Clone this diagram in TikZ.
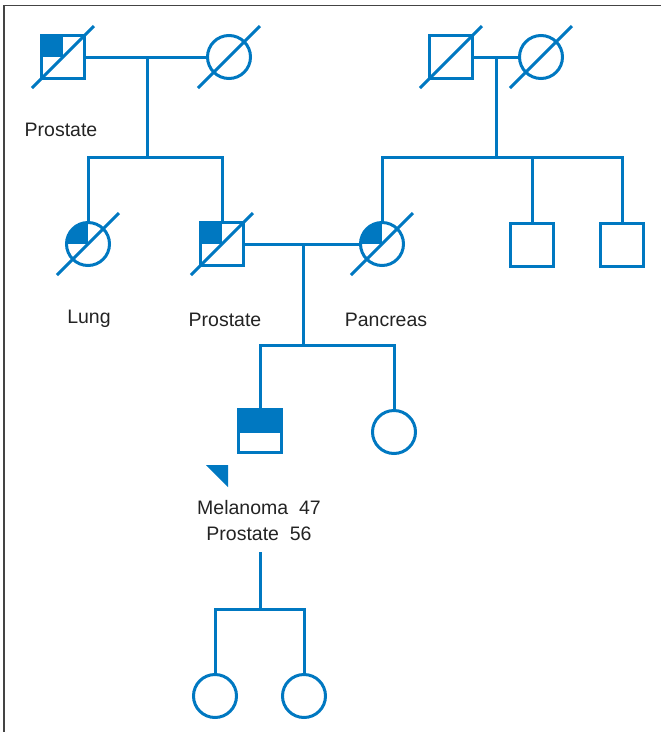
\documentclass[tikz,border=0pt]{standalone}
\usepackage{fontspec}
\setmainfont{Liberation Sans}
\definecolor{pblue}{RGB}{0,120,193}
\definecolor{ptext}{RGB}{35,35,35}
\begin{document}
\begin{tikzpicture}[x=1pt,y=-1pt,
  rel/.style={draw=pblue,line width=3pt},
  male/.style={rectangle,draw=pblue,line width=3pt,minimum size=43pt,inner sep=0pt,fill=white},
  female/.style={circle,draw=pblue,line width=3pt,minimum size=43pt,inner sep=0pt,fill=white},
  quarter/.style={path picture={\fill[pblue] (path picture bounding box.north west) rectangle (path picture bounding box.center);}},
  tophalf/.style={path picture={\fill[pblue] (path picture bounding box.north west) rectangle (path picture bounding box.east);
      \draw[pblue,line width=3pt] (path picture bounding box.west) -- (path picture bounding box.east);}},
  lbl/.style={text=ptext,font=\fontsize{19.5}{26}\selectfont,inner sep=0pt,align=center},
  dead/.style={draw=pblue,line width=3pt}
]
\useasboundingbox (0,0) rectangle (661,732);
% frame (top and left only)
\draw[ptext!85,line width=1.6pt] (4,732) -- (4,5.5) -- (661,5.5);

% coordinates of the junctions
\coordinate (m1) at (147,57);
\coordinate (s1) at (147,157);
\coordinate (m2) at (496,57);
\coordinate (s2) at (496,157);
\coordinate (m3) at (303,244);
\coordinate (s3) at (303,345);
\coordinate (pd) at (260,552);
\coordinate (s4) at (260,609);

% generation I
\node[male,quarter] (gf1) at (63,57) {};
\node[female] (gm1) at (229,57) {};
\node[male] (gf2) at (451,57) {};
\node[female] (gm2) at (541,57) {};
% generation II
\node[female,quarter] (aunt) at (88,244) {};
\node[male,quarter] (father) at (222,244) {};
\node[female,quarter] (mother) at (382,244) {};
\node[male] (unc1) at (532,245) {};
\node[male] (unc2) at (622,245) {};
% generation III
\node[male,tophalf] (prob) at (260,431) {};
\node[female] (sis) at (394,432) {};
% generation IV
\node[female] (d1) at (215,696) {};
\node[female] (d2) at (304,696) {};

% connectors
\draw[rel] (gf1) -- (gm1);
\draw[rel] (gf2) -- (gm2);
\draw[rel] (father) -- (mother);
\draw[rel] (m1) -- (s1);
\draw[rel] (m2) -- (s2);
\draw[rel] (m3) -- (s3);
\draw[rel] (pd) -- (s4);
\draw[rel] (s1) -| (aunt);
\draw[rel] (s1) -| (father);
\draw[rel] (s2) -| (mother);
\draw[rel] (s2) -| (unc1);
\draw[rel] (s2) -| (unc2);
\draw[rel] (s3) -| (prob);
\draw[rel] (s3) -| (sis);
\draw[rel] (s4) -| (d1);
\draw[rel] (s4) -| (d2);

% deceased slashes
\foreach \n in {gf1,gm1,gf2,gm2,aunt,father,mother}
  \draw[dead] ([shift={(-31,31)}]\n.center) -- ([shift={(31,-31)}]\n.center);

% proband arrow
\fill[pblue] (206,465) -- (228,465) -- (228,487) -- cycle;

% labels
\node[lbl] (l1) at (61,130) {Prostate};
\node[lbl] (l2) at (89,319) {Lung};
\node[lbl] (l3) at (225,320) {Prostate};
\node[lbl] (l4) at (386,320) {Pancreas};
\node[lbl] (l5) at (259,521) {Melanoma~~47\\Prostate~~56};
\end{tikzpicture}
\end{document}
